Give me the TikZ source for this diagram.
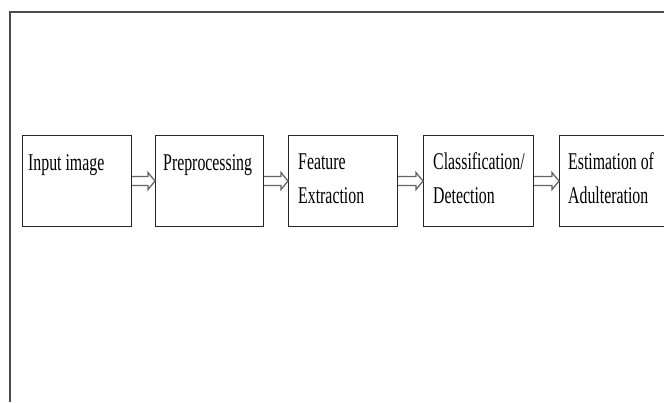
\documentclass[tikz,border=0pt]{standalone}
\usepackage{fontspec}
\setmainfont{Liberation Serif}[FakeStretch=0.66]
\usetikzlibrary{calc}
\begin{document}
\begin{tikzpicture}[x=1pt,y=-1pt,
  stagebox/.style={draw=black!85,line width=1.1pt,inner sep=0pt,anchor=north west,minimum height=91pt},
  stagetext/.style={anchor=base west,inner sep=0pt,align=left,font=\fontsize{24}{34}\selectfont,text=black},
  blockarrow/.style={draw=black!60,line width=1.3pt,fill=white,line join=miter},
  frameline/.style={draw=black!70,line width=1.5pt}]
\useasboundingbox (0,0) rectangle (664,402);
\draw[frameline] (10,402) -- (10,12) -- (664,12);
\node[stagebox,minimum width=109pt] (b1) at (22,135) {};
\node[stagebox,minimum width=108pt] (b2) at (155,135) {};
\node[stagebox,minimum width=109pt] (b3) at (288,135) {};
\node[stagebox,minimum width=110pt] (b4) at (423,135) {};
\node[stagebox,minimum width=110pt] (b5) at (559,135) {};
\node[stagetext] (t1) at ($(b1.north west)+(6,35.5)$) {Input image};
\node[stagetext] (t2) at ($(b2.north west)+(8,35.5)$) {Preprocessing};
\node[stagetext] (t3) at ($(b3.north west)+(10,68)$) {Feature\\Extraction};
\node[stagetext] (t4) at ($(b4.north west)+(10,68)$) {Classification/\\Detection};
\node[stagetext] (t5) at ($(b5.north west)+(9,68)$) {Estimation of\\Adulteration};
\foreach \a/\b in {b1/b2,b2/b3,b3/b4,b4/b5}{
  \draw[blockarrow] ($(\a.east)+(0,-4.5)$) -- ($(\b.west)+(-7,-4.5)$) -- ($(\b.west)+(-7,-8.5)$)
    -- (\b.west) -- ($(\b.west)+(-7,8.5)$) -- ($(\b.west)+(-7,4.5)$) -- ($(\a.east)+(0,4.5)$);
}
\end{tikzpicture}
\end{document}
